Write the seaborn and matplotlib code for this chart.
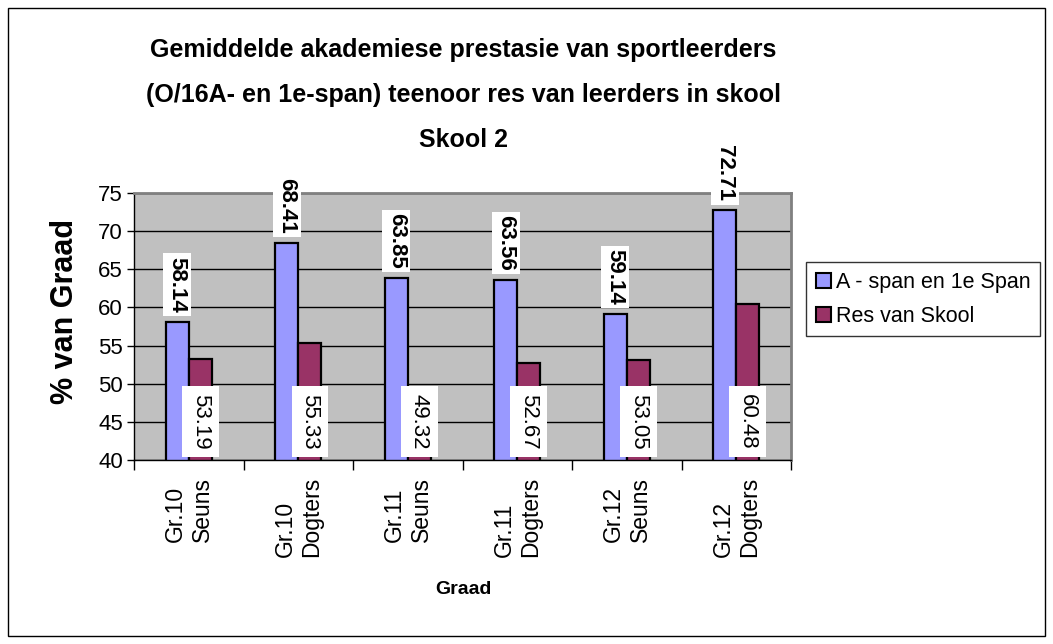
import matplotlib
matplotlib.use("Agg")
import matplotlib.pyplot as plt
import matplotlib.patches as mpatches
import seaborn as sns
import pandas as pd

# data
categories = ["Gr.10\nSeuns", "Gr.10\nDogters", "Gr.11\nSeuns",
              "Gr.11\nDogters", "Gr.12\nSeuns", "Gr.12\nDogters"]
series_names = ["A - span en 1e Span", "Res van Skool"]
span_values = [58.14, 68.41, 63.85, 63.56, 59.14, 72.71]
res_values = [53.19, 55.33, 49.32, 52.67, 53.05, 60.48]
y_ticks = [40, 45, 50, 55, 60, 65, 70, 75]

colors = ["#9999FF", "#993366"]

sns.set_style("white")
plt.rcParams['font.family'] = ['Liberation Sans', 'DejaVu Sans']
plt.rcParams['text.color'] = 'black'
plt.rcParams['xtick.color'] = 'black'
plt.rcParams['ytick.color'] = 'black'
plt.rcParams['axes.labelcolor'] = 'black'

df = pd.DataFrame({
    "Graad": categories * 2,
    "value": span_values + res_values,
    "series": [series_names[0]] * len(categories) + [series_names[1]] * len(categories),
})

fig = plt.figure(figsize=(10.53, 6.44), dpi=100)
ax = fig.add_axes([0.1273, 0.2857, 0.6239, 0.4146])

sns.barplot(data=df, x="Graad", y="value", hue="series", palette=colors,
            width=0.42, saturation=1, edgecolor="black", linewidth=1.6,
            ax=ax, legend=False)

ax.set_facecolor("#C0C0C0")
ax.set_ylim(40, 75)
ax.set_yticks(y_ticks)
ax.set_xlim(-0.5, len(categories) - 0.5)
ax.yaxis.grid(True, color="black", linewidth=1)
ax.set_axisbelow(True)
ax.set_xlabel("")
ax.set_ylabel("")

for side in ["top", "right"]:
    ax.spines[side].set_color("#808080")
    ax.spines[side].set_linewidth(2)
for side in ["left", "bottom"]:
    ax.spines[side].set_color("black")
    ax.spines[side].set_linewidth(1)

ax.tick_params(axis="y", labelsize=16, length=5, width=1, left=True, pad=3)
ax.tick_params(axis="x", which="major", labelsize=16.5, length=0, rotation=90, pad=12)
ax.set_xticks([i + 0.5 for i in range(-1, len(categories))], minor=True)
ax.tick_params(axis="x", which="minor", length=7, width=1, bottom=True)
for lbl in ax.get_xticklabels():
    lbl.set_va("top")
    lbl.set_ha("center")
    lbl.set_multialignment("left")

# data labels
blue_bars, red_bars = ax.containers[0], ax.containers[1]
for bar, v in zip(blue_bars, span_values):
    xc = bar.get_x() + bar.get_width() / 2
    ax.text(xc, v + 1.2, f"{v:.2f}", rotation=270, ha="center", va="bottom",
            fontsize=16, fontweight="bold", clip_on=False,
            bbox=dict(boxstyle="square,pad=0.15", facecolor="white", edgecolor="none"))
for bar, v in zip(red_bars, res_values):
    xc = bar.get_x() + bar.get_width() / 2
    ax.text(xc, 41.4, f"{v:.2f}", rotation=270, ha="center", va="bottom",
            fontsize=16, clip_on=False,
            bbox=dict(boxstyle="square,pad=0.35", facecolor="white", edgecolor="none"))

# titles and axis labels
title_lines = ["Gemiddelde akademiese prestasie van sportleerders",
               "(O/16A- en 1e-span) teenoor res van leerders in skool",
               "Skool 2"]
for line, y in zip(title_lines, [0.922, 0.852, 0.783]):
    fig.text(0.44, y, line, ha="center", va="center", fontsize=18, fontweight="bold")

fig.text(0.062, 0.516, "% van Graad", rotation=90, ha="center", va="center",
         fontsize=22, fontweight="bold")
fig.text(0.44, 0.084, "Graad", ha="center", va="center", fontsize=14, fontweight="bold")

# legend
handles = [mpatches.Patch(facecolor=c, edgecolor="black", linewidth=1.5, label=n)
           for c, n in zip(colors, series_names)]
leg = fig.legend(handles=handles, loc="upper left", bbox_to_anchor=(0.7654, 0.5932),
                 fontsize=15.5, frameon=True, fancybox=False, handlelength=0.7,
                 handleheight=0.7, handletextpad=0.25, borderpad=0.45, labelspacing=0.6,
                 borderaxespad=0)
leg.get_frame().set_edgecolor("black")
leg.get_frame().set_linewidth(1)

# outer chart border
fig.patches.append(mpatches.Rectangle((0.0076, 0.0124), 0.9848, 0.9752,
                                      transform=fig.transFigure, fill=False,
                                      edgecolor="black", linewidth=1))

fig.savefig("out.png", dpi=100)
